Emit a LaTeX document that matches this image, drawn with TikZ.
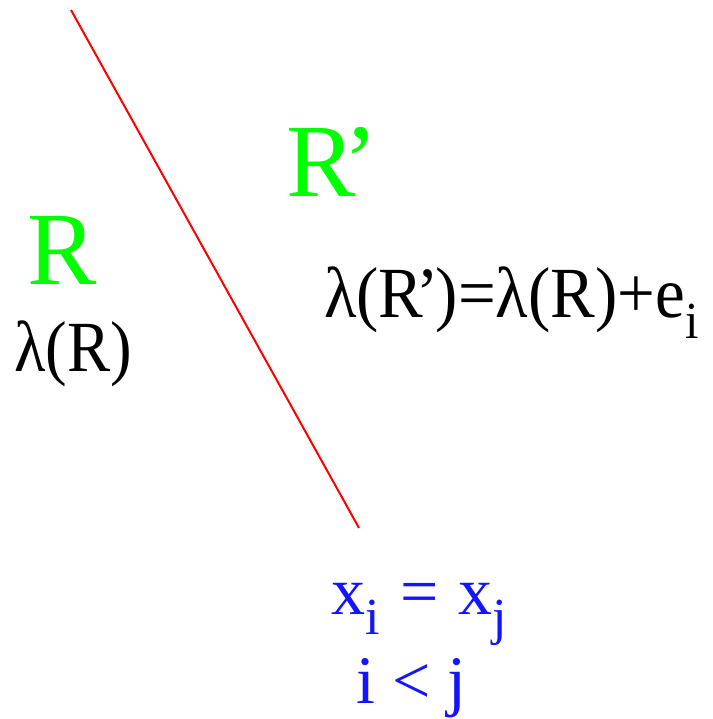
\documentclass[tikz,border=0pt]{standalone}
\usepackage{fontspec}
\setmainfont{Liberation Serif}
\definecolor{lgreen}{RGB}{0,255,0}
\definecolor{lblue}{RGB}{20,20,255}
\definecolor{lred}{RGB}{255,0,0}
\newcommand{\sbs}[1]{\raisebox{-0.28em}{\fontsize{52}{54}\selectfont #1}}
\begin{document}
\begin{tikzpicture}[x=1pt,y=1pt,
  lbl/.style={inner sep=0pt,anchor=base west},
  big/.style={lbl,text=lgreen,font=\fontsize{104}{110}\selectfont},
  eqn/.style={lbl,text=black,font=\fontsize{72}{80}\selectfont},
  cond/.style={lbl,text=lblue,font=\fontsize{68}{72}\selectfont}]
\useasboundingbox (0,0) rectangle (712,719);
\coordinate (top) at (71,709);
\coordinate (bot) at (359,191);
\draw[lred,line width=2pt] (top) -- (bot);
\node[big] (r) at (27,434) {R};
\node[big] (rp) at (286,522) {R\kern-0.12em’};
\node[eqn] (lr) at (14,347) {\scalebox{0.9}[1]{λ(R)}};
\node[eqn] (eq) at (324,401) {\scalebox{0.93}[1]{λ(R\kern-0.1em’\kern-0.05em)=λ(R)+e\sbs{i}}};
\node[cond] (c1) at (331,104) {x\sbs{i}\hspace{0.3em}=\hspace{0.3em}x\sbs{j}};
\node[cond] (c2) at (356,16) {i < j};
\end{tikzpicture}
\end{document}
